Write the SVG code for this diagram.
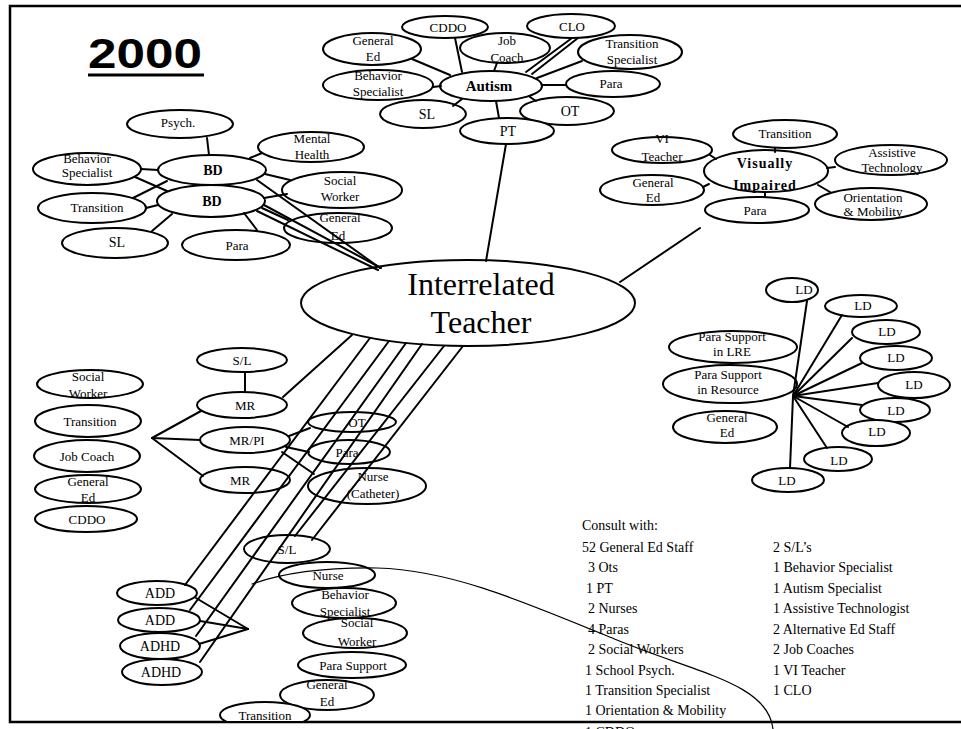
<svg xmlns="http://www.w3.org/2000/svg" width="961" height="729" viewBox="0 0 961 729">
<style>
.n ellipse{fill:#fff;stroke:#000;stroke-width:2}
text{font-family:"Liberation Serif","Times New Roman",serif;font-size:13px;fill:#000;text-anchor:middle}
.b{font-weight:bold;font-size:14px}
.s{font-size:14px}
.c line,.c path{stroke:#000;stroke-width:2;fill:none;stroke-linecap:round}
.c .thin{stroke-width:1.2}
.t{text-anchor:start;font-size:14px}
.frame{fill:none;stroke:#000;stroke-width:2.5}
</style>
<defs>
<clipPath id="cb"><rect x="0" y="0" width="961" height="721"/></clipPath>
</defs>
<rect width="961" height="729" fill="#fff"/>
<path class="frame" d="M961,6 H10 V722 H961"/>
<g id="title">
<text x="88" y="68" style="font-family:'Liberation Sans',Arial,sans-serif;font-weight:bold;font-size:43px;text-anchor:start" textLength="114" lengthAdjust="spacingAndGlyphs">2000</text>
<rect x="88" y="73.5" width="116" height="3" fill="#000"/>
</g>

<!-- Autism cluster -->
<g id="a_cddo" class="n"><ellipse cx="445" cy="27" rx="43" ry="11"/><text x="448" y="32">CDDO</text></g>
<g id="a_clo" class="n"><ellipse cx="571" cy="26" rx="44" ry="12"/><text x="572" y="31">CLO</text></g>
<g id="a_gen" class="n"><ellipse cx="372" cy="49" rx="49" ry="16"/><text x="373" y="45">General</text><text x="373" y="61">Ed</text></g>
<g id="a_job" class="n"><ellipse cx="505" cy="48" rx="45" ry="15"/><text x="507" y="45">Job</text><text x="507" y="62">Coach</text></g>
<g id="a_trans" class="n"><ellipse cx="630" cy="52" rx="52" ry="17"/><text x="632" y="48">Transition</text><text x="632" y="64">Specialist</text></g>
<g id="a_beh" class="n"><ellipse cx="378" cy="85" rx="55" ry="15"/><text x="378" y="80">Behavior</text><text x="378" y="96">Specialist</text></g>
<g id="autism" class="n"><ellipse cx="491" cy="86" rx="51" ry="15"/><text class="b" x="489" y="91" style="font-size:15px">Autism</text></g>
<g id="a_para" class="n"><ellipse cx="613" cy="84" rx="47" ry="13"/><text x="611" y="88">Para</text></g>
<g id="a_sl" class="n"><ellipse cx="423" cy="114" rx="43" ry="14"/><text class="s" x="427" y="119">SL</text></g>
<g id="a_ot" class="n"><ellipse cx="567" cy="111" rx="47" ry="14"/><text class="s" x="570" y="116">OT</text></g>
<g id="a_pt" class="n"><ellipse cx="507" cy="131" rx="47" ry="13"/><text class="s" x="508" y="136">PT</text></g>

<!-- BD cluster -->
<g id="b_psych" class="n"><ellipse cx="180" cy="124" rx="53" ry="14"/><text x="178" y="127">Psych.</text></g>
<g id="b_mh" class="n"><ellipse cx="311" cy="147" rx="53" ry="15"/><text x="312" y="143">Mental</text><text x="312" y="159">Health</text></g>
<g id="b_beh" class="n"><ellipse cx="87" cy="169" rx="54" ry="16"/><text x="87" y="163">Behavior</text><text x="87" y="177">Specialist</text></g>
<g id="bd1" class="n"><ellipse cx="212" cy="170" rx="54" ry="15"/><text class="b" x="213" y="175">BD</text></g>
<g id="b_sw" class="n"><ellipse cx="342" cy="190" rx="60" ry="18"/><text x="340" y="185">Social</text><text x="340" y="201">Worker</text></g>
<g id="b_trans" class="n"><ellipse cx="92" cy="208" rx="54" ry="15"/><text x="97" y="212">Transition</text></g>
<g id="bd2" class="n"><ellipse cx="211" cy="201" rx="54" ry="16"/><text class="b" x="212" y="206">BD</text></g>
<g id="b_gen" class="n"><ellipse cx="338" cy="228" rx="54" ry="15"/><text x="340" y="222">General</text><text x="338" y="240">Ed</text></g>
<g id="b_sl" class="n"><ellipse cx="115" cy="243" rx="53" ry="15"/><text class="s" x="117" y="247">SL</text></g>
<g id="b_para" class="n"><ellipse cx="236" cy="245" rx="54" ry="15"/><text x="237" y="250">Para</text></g>

<!-- VI cluster -->
<g id="v_trans" class="n"><ellipse cx="785" cy="134" rx="52" ry="14"/><text x="785" y="138">Transition</text></g>
<g id="v_vit" class="n"><ellipse cx="662" cy="150" rx="50" ry="13"/><text x="662" y="143">VI</text><text x="662" y="161">Teacher</text></g>
<g id="vi" class="n"><ellipse cx="766" cy="171" rx="62" ry="21"/><text class="b" x="765" y="168" letter-spacing="1">Visually</text><text class="b" x="765" y="190" letter-spacing="1">Impaired</text></g>
<g id="v_at" class="n"><ellipse cx="891" cy="160" rx="56" ry="15"/><text x="892" y="157">Assistive</text><text x="892" y="172">Technology</text></g>
<g id="v_gen" class="n"><ellipse cx="652" cy="190" rx="52" ry="15"/><text x="653" y="187">General</text><text x="653" y="202">Ed</text></g>
<g id="v_om" class="n"><ellipse cx="871" cy="204" rx="56" ry="16"/><text x="873" y="202">Orientation</text><text x="873" y="216">&amp; Mobility</text></g>
<g id="v_para" class="n"><ellipse cx="757" cy="210" rx="52" ry="13"/><text x="755" y="215">Para</text></g>

<!-- Central -->
<g id="it" class="n"><ellipse cx="468" cy="303" rx="167" ry="43"/><text x="481" y="295" style="font-size:32px">Interrelated</text><text x="481" y="333" style="font-size:32px">Teacher</text></g>

<!-- MR cluster -->
<g id="m_sl" class="n"><ellipse cx="242" cy="360" rx="45" ry="12"/><text x="242" y="365">S/L</text></g>
<g id="mr1" class="n"><ellipse cx="242" cy="405" rx="45" ry="13"/><text x="245" y="410">MR</text></g>
<g id="mrpi" class="n"><ellipse cx="245" cy="440" rx="45" ry="13"/><text x="247" y="445">MR/PI</text></g>
<g id="mr2" class="n"><ellipse cx="245" cy="480" rx="45" ry="13"/><text x="240" y="485">MR</text></g>
<g id="m_sw" class="n"><ellipse cx="90" cy="384" rx="53" ry="14"/><text x="88" y="381">Social</text><text x="88" y="398">Worker</text></g>
<g id="m_trans" class="n"><ellipse cx="88" cy="421" rx="53" ry="16"/><text x="90" y="426">Transition</text></g>
<g id="m_job" class="n"><ellipse cx="87" cy="456" rx="53" ry="16"/><text x="87" y="461">Job Coach</text></g>
<g id="m_gen" class="n"><ellipse cx="88" cy="489" rx="53" ry="14"/><text x="88" y="486">General</text><text x="88" y="502">Ed</text></g>
<g id="m_cddo" class="n"><ellipse cx="86" cy="519" rx="51" ry="13"/><text x="87" y="524">CDDO</text></g>
<g id="m_ot" class="n"><ellipse cx="352" cy="422" rx="44" ry="10"/><text x="357" y="427">OT</text></g>
<g id="m_para" class="n"><ellipse cx="349" cy="452" rx="41" ry="12"/><text x="347" y="457">Para</text></g>
<g id="m_nurse" class="n"><ellipse cx="367" cy="486" rx="59" ry="18"/><text x="373" y="481">Nurse</text><text x="373" y="498">(Catheter)</text></g>

<!-- LD cluster -->
<g id="ld1" class="n"><ellipse cx="792" cy="290" rx="26" ry="12"/><text x="804" y="294">LD</text></g>
<g id="ld2" class="n"><ellipse cx="861" cy="306" rx="36" ry="11"/><text x="863" y="310">LD</text></g>
<g id="ld3" class="n"><ellipse cx="886" cy="332" rx="34" ry="12"/><text x="887" y="336">LD</text></g>
<g id="ld4" class="n"><ellipse cx="896" cy="358" rx="36" ry="12"/><text x="896" y="362">LD</text></g>
<g id="ld5" class="n"><ellipse cx="914" cy="385" rx="36" ry="13"/><text x="914" y="389">LD</text></g>
<g id="ld6" class="n"><ellipse cx="895" cy="410" rx="35" ry="12"/><text x="896" y="415">LD</text></g>
<g id="ld7" class="n"><ellipse cx="876" cy="433" rx="34" ry="13"/><text x="877" y="436">LD</text></g>
<g id="ld8" class="n"><ellipse cx="838" cy="459" rx="34" ry="12"/><text x="839" y="465">LD</text></g>
<g id="ld9" class="n"><ellipse cx="788" cy="480" rx="36" ry="12"/><text x="787" y="485">LD</text></g>
<g id="l_lre" class="n"><ellipse cx="733" cy="347" rx="64" ry="16"/><text x="732" y="341">Para Support</text><text x="732" y="356">in LRE</text></g>
<g id="l_res" class="n"><ellipse cx="730" cy="384" rx="67" ry="19"/><text x="728" y="379">Para Support</text><text x="728" y="394">in Resource</text></g>
<g id="l_gen" class="n"><ellipse cx="725" cy="427" rx="52" ry="16"/><text x="727" y="422">General</text><text x="727" y="437">Ed</text></g>

<!-- ADD cluster -->
<g id="add1" class="n"><ellipse cx="157" cy="593" rx="40" ry="12"/><text class="s" x="160" y="598">ADD</text></g>
<g id="add2" class="n"><ellipse cx="159" cy="620" rx="41" ry="12"/><text class="s" x="160" y="625">ADD</text></g>
<g id="adhd1" class="n"><ellipse cx="160" cy="646" rx="40" ry="13"/><text class="s" x="160" y="651">ADHD</text></g>
<g id="adhd2" class="n"><ellipse cx="162" cy="672" rx="40" ry="13"/><text class="s" x="161" y="677">ADHD</text></g>
<g id="d_sl" class="n"><ellipse cx="287" cy="549" rx="43" ry="14"/><text x="287" y="554">S/L</text></g>
<g id="d_nurse" class="n"><ellipse cx="327" cy="575" rx="48" ry="13"/><text x="328" y="580">Nurse</text></g>
<g id="d_beh" class="n"><ellipse cx="344" cy="603" rx="52" ry="15"/><text x="345" y="599">Behavior</text><text x="345" y="616">Specialist</text></g>
<g id="d_sw" class="n"><ellipse cx="355" cy="633" rx="52" ry="15"/><text x="357" y="627">Social</text><text x="357" y="646">Worker</text></g>
<g id="d_para" class="n"><ellipse cx="352" cy="665" rx="54" ry="13"/><text x="353" y="670">Para Support</text></g>
<g id="d_gen" class="n"><ellipse cx="327" cy="695" rx="47" ry="15"/><text x="327" y="689">General</text><text x="327" y="706">Ed</text></g>
<g id="d_trans" class="n" clip-path="url(#cb)"><ellipse cx="265" cy="715" rx="45" ry="13"/><text x="265" y="720">Transition</text></g>

<!-- Connectors -->
<g id="connectors" class="c">
<!-- Autism -->
<line x1="455" y1="38" x2="462" y2="72"/>
<line x1="412" y1="59" x2="450" y2="75"/>
<line x1="497" y1="63" x2="494" y2="71"/>
<line x1="572" y1="38" x2="526" y2="72"/>
<line x1="578" y1="38" x2="532" y2="74"/>
<line x1="582" y1="61" x2="537" y2="78"/>
<line x1="566" y1="85" x2="542" y2="85"/>
<line x1="433" y1="87" x2="441" y2="86"/>
<line x1="453" y1="106" x2="462" y2="99"/>
<line x1="496" y1="101" x2="499" y2="118"/>
<line x1="530" y1="97" x2="536" y2="101"/>
<line x1="506" y1="144" x2="486" y2="261"/>
<!-- BD -->
<line x1="207" y1="138" x2="209" y2="155"/>
<line x1="141" y1="169" x2="158" y2="170"/>
<line x1="135" y1="177" x2="167" y2="191"/>
<line x1="133" y1="198" x2="167" y2="181"/>
<line x1="146" y1="208" x2="158" y2="205"/>
<line x1="152" y1="231" x2="172" y2="214"/>
<line x1="244" y1="213" x2="257" y2="230"/>
<line x1="250" y1="158" x2="262" y2="153"/>
<line x1="265" y1="174" x2="290" y2="180"/>
<line x1="264" y1="198" x2="287" y2="194"/>
<line x1="262" y1="208" x2="288" y2="220"/>
<line x1="257" y1="180" x2="380" y2="268"/>
<line x1="264" y1="205" x2="381" y2="268"/>
<line x1="257" y1="211" x2="378" y2="270"/>
<!-- VI -->
<line x1="775" y1="148" x2="775" y2="152"/>
<line x1="710" y1="155" x2="716" y2="159"/>
<line x1="835" y1="167" x2="827" y2="168"/>
<line x1="703" y1="187" x2="709" y2="184"/>
<line x1="830" y1="192" x2="818" y2="185"/>
<line x1="765" y1="197" x2="765" y2="192"/>
<line x1="700" y1="228" x2="620" y2="282"/>
<!-- MR -->
<line x1="245" y1="372" x2="245" y2="392"/>
<line x1="152" y1="438" x2="201" y2="411"/>
<line x1="152" y1="438" x2="200" y2="440"/>
<line x1="152" y1="438" x2="203" y2="476"/>
<line x1="289" y1="436" x2="310" y2="428"/>
<line x1="286" y1="447" x2="309" y2="452"/>
<line x1="282" y1="452" x2="314" y2="474"/>
<!-- bundle from Interrelated Teacher -->
<line x1="352" y1="335" x2="283" y2="397"/>
<line x1="370" y1="338" x2="185" y2="585"/>
<line x1="389" y1="341" x2="190" y2="610"/>
<line x1="406" y1="343" x2="196" y2="636"/>
<line x1="422" y1="344" x2="200" y2="662"/>
<line x1="444" y1="346" x2="295" y2="536"/>
<line x1="463" y1="346" x2="312" y2="540"/>
<!-- ADD fork -->
<line x1="248" y1="629" x2="196" y2="598"/>
<line x1="248" y1="629" x2="200" y2="621"/>
<line x1="248" y1="629" x2="199" y2="644"/>
<!-- LD hub -->
<line x1="793" y1="396" x2="807" y2="301"/>
<line x1="793" y1="396" x2="842" y2="315"/>
<line x1="793" y1="396" x2="852" y2="338"/>
<line x1="793" y1="396" x2="862" y2="363"/>
<line x1="793" y1="396" x2="878" y2="383"/>
<line x1="793" y1="396" x2="862" y2="405"/>
<line x1="793" y1="396" x2="848" y2="427"/>
<line x1="793" y1="396" x2="827" y2="448"/>
<line x1="793" y1="396" x2="790" y2="468"/>
<!-- thin curve -->
<path class="thin" d="M252,584 Q300,567 377,568 C450,570 520,600 617,640 C700,674 768,684 773,729"/>
</g>

<!-- Consult list -->
<g id="consult">
<text class="t" x="582" y="530">Consult with:</text>
<text class="t" x="582" y="552">52 General Ed Staff</text>
<text class="t" x="588" y="572">3  Ots</text>
<text class="t" x="586" y="593">1  PT</text>
<text class="t" x="588" y="613">2  Nurses</text>
<text class="t" x="588" y="634">4  Paras</text>
<text class="t" x="588" y="654">2  Social Workers</text>
<text class="t" x="585" y="675">1 School Psych.</text>
<text class="t" x="585" y="695">1 Transition Specialist</text>
<text class="t" x="585" y="715">1  Orientation &amp; Mobility</text>
<text class="t" x="585" y="737">1  CDDO</text>
<text class="t" x="773" y="552">2  S/L’s</text>
<text class="t" x="773" y="572">1  Behavior Specialist</text>
<text class="t" x="773" y="593">1  Autism Specialist</text>
<text class="t" x="773" y="613">1  Assistive Technologist</text>
<text class="t" x="773" y="634">2  Alternative Ed Staff</text>
<text class="t" x="773" y="654">2  Job Coaches</text>
<text class="t" x="773" y="675">1  VI Teacher</text>
<text class="t" x="773" y="695">1  CLO</text>
</g>
</svg>
